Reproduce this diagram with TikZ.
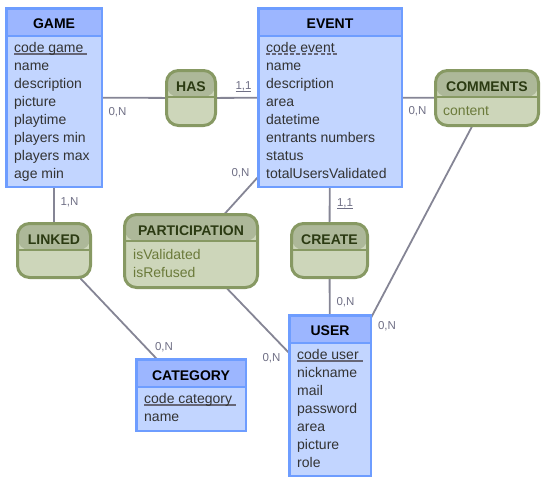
\documentclass[tikz,border=0pt]{standalone}
\usepackage{fontspec}
\setmainfont{Liberation Sans}
\usetikzlibrary{backgrounds}
\definecolor{entbody}{HTML}{C2D5FF}
\definecolor{enthead}{HTML}{9CB6FF}
\definecolor{entline}{HTML}{6E9DFF}
\definecolor{asobody}{HTML}{CDD6BA}
\definecolor{asohead}{HTML}{ADB899}
\definecolor{asoline}{HTML}{879963}
\definecolor{asotitle}{HTML}{2B3A12}
\definecolor{asoattr}{HTML}{6B7A3A}
\definecolor{attrcol}{HTML}{333333}
\definecolor{cardcol}{HTML}{6F6F85}
\definecolor{linkcol}{HTML}{858595}
\definecolor{ulcol}{HTML}{666677}
\newcommand\keyul[1]{\setbox0\hbox{#1\ }\rlap{\color{ulcol}\rule[-2.6pt]{\wd0}{1.7pt}}#1}
\newcommand\weakul[1]{\setbox0\hbox{#1\ }\rlap{\color{ulcol}\hbox to \wd0{\xleaders\hbox to 6pt{\rule[-2.6pt]{4pt}{1.4pt}\hfil}\hfil}}#1}
\newcommand\cardul[1]{\setbox0\hbox{#1}\rlap{\color{cardcol}\rule[-3.2pt]{\wd0}{1.1pt}}#1}
\tikzset{
  entity/.style={draw=entline, line width=2.5pt, fill=entbody, inner sep=0pt, outer sep=0pt, anchor=north west,
    path picture={\fill[enthead] (path picture bounding box.north west) rectangle ([yshift=-27.75pt]path picture bounding box.north east);
      \draw[entline, line width=1.6pt] ([yshift=-27.75pt]path picture bounding box.north west) -- ([yshift=-27.75pt]path picture bounding box.north east);}},
  asso/.style={draw=asoline, line width=3pt, fill=asobody, rounded corners=12pt, inner sep=0pt, outer sep=0pt, anchor=north west,
    path picture={\fill[asohead] (path picture bounding box.north west) rectangle ([yshift=-26.5pt]path picture bounding box.north east);
      \draw[asoline, line width=2pt] ([yshift=-26.5pt]path picture bounding box.north west) -- ([yshift=-26.5pt]path picture bounding box.north east);}},
  etitle/.style={anchor=base, inner sep=0pt, font=\fontsize{14pt}{16pt}\selectfont\bfseries, text=black},
  atitle/.style={anchor=base, inner sep=0pt, font=\fontsize{14pt}{16pt}\selectfont\bfseries, text=asotitle},
  eattr/.style={anchor=base west, inner sep=0pt, font=\fontsize{14pt}{16pt}\selectfont, text=attrcol},
  aattr/.style={anchor=base west, inner sep=0pt, font=\fontsize{14pt}{16pt}\selectfont, text=asoattr},
  card/.style={anchor=base, inner sep=0pt, font=\fontsize{11.5pt}{13pt}\selectfont, text=cardcol},
  link/.style={draw=linkcol, line width=1.8pt},
}
\begin{document}
\begin{tikzpicture}[x=1pt, y=-1pt]
\useasboundingbox (0,0) rectangle (546,483);
% entities
\node[entity, minimum width=95.5pt, minimum height=178.5pt] (game) at (6.25,8.25) {};
\node[entity, minimum width=143.5pt, minimum height=178.5pt] (event) at (258.25,8.25) {};
\node[entity, minimum width=109.5pt, minimum height=71.5pt] (category) at (136.25,359.25) {};
\node[entity, minimum width=81.5pt, minimum height=160.5pt] (user) at (289.25,315.25) {};
% associations
\node[asso, minimum width=49pt, minimum height=55pt] (has) at (166.5,70.5) {};
\node[asso, minimum width=103pt, minimum height=55pt] (comments) at (435.5,70.5) {};
\node[asso, minimum width=73pt, minimum height=54pt] (linked) at (17.5,223.5) {};
\node[asso, minimum width=133pt, minimum height=73pt] (participation) at (124.5,214.5) {};
\node[asso, minimum width=76pt, minimum height=54pt] (create) at (291.5,223.5) {};
% links
\begin{scope}[on background layer]
\draw[link] (game.center) -- (has.center);
\draw[link] (has.center) -- (event.center);
\draw[link] (event.center) -- (comments.center);
\draw[link] (game.center) -- (linked.center);
\draw[link] (linked.center) -- (category.center);
\draw[link] (event.center) -- (participation.center);
\draw[link] (participation.center) -- (user.center);
\draw[link] (event.center) -- (create.center);
\draw[link] (create.center) -- (user.center);
\draw[link] (comments.center) -- (user.center);
\end{scope}
% titles
\node[etitle] (game-t) at (54,28) {GAME};
\node[etitle] (event-t) at (330,28) {EVENT};
\node[etitle] (category-t) at (191,380) {CATEGORY};
\node[etitle] (user-t) at (330,335) {USER};
\node[atitle] (has-t) at (191,91) {HAS};
\node[atitle] (comments-t) at (487,91) {COMMENTS};
\node[atitle] (linked-t) at (54,244) {LINKED};
\node[atitle] (participation-t) at (191,235) {PARTICIPATION};
\node[atitle] (create-t) at (329.5,244) {CREATE};
% attributes
\foreach \t [count=\i] in {\keyul{code game}, name, description, picture, playtime, players min, players max, age min}
  \node[eattr] (game-a\i) at (14,{52+18*(\i-1)}) {\t};
\foreach \t [count=\i] in {\weakul{code event}, name, description, area, datetime, entrants numbers, status, totalUsersValidated}
  \node[eattr] (event-a\i) at (266,{52+18*(\i-1)}) {\t};
\foreach \t [count=\i] in {\keyul{code category}, name}
  \node[eattr] (category-a\i) at (144,{403+18*(\i-1)}) {\t};
\foreach \t [count=\i] in {\keyul{code user}, nickname, mail, password, area, picture, role}
  \node[eattr] (user-a\i) at (297,{359+18*(\i-1)}) {\t};
\node[aattr] (comments-a1) at (443,115) {content};
\node[aattr] (participation-a1) at (133,259) {isValidated};
\node[aattr] (participation-a2) at (133,277) {isRefused};
% cardinalities
\node[card] (c1) at (117.5,115) {0,N};
\node[card] (c2) at (243.5,89) {\cardul{1,1}};
\node[card] (c3) at (240.5,176) {0,N};
\node[card] (c4) at (417.5,114) {0,N};
\node[card] (c5) at (69.5,205) {1,N};
\node[card] (c6) at (164,350) {0,N};
\node[card] (c7) at (271.5,361) {0,N};
\node[card] (c8) at (345,206) {\cardul{1,1}};
\node[card] (c9) at (345.5,305) {0,N};
\node[card] (c10) at (387,329) {0,N};
\end{tikzpicture}
\end{document}
